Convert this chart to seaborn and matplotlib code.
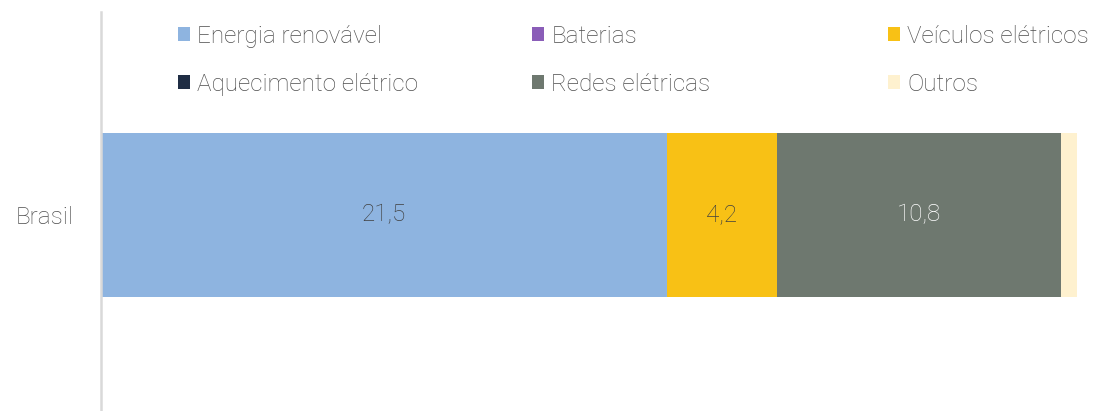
import numpy as np
import pandas as pd
import seaborn as sns
import matplotlib.pyplot as plt
from matplotlib.patches import Patch

country = 'Brasil'
categories = ['Energia renovável', 'Baterias', 'Veículos elétricos',
              'Aquecimento elétrico', 'Redes elétricas', 'Outros']
values = [21.5, 0.0, 4.2, 0.0, 10.8, 0.6]
colors = ['#8EB4E0', '#8A5DB8', '#F8C115', '#1F2D44', '#6E786F', '#FEF1CF']
label_colors = ['#404040', '#404040', '#404040', '#FFFFFF', '#FFFFFF', '#404040']

sns.set_style('white')
plt.rcParams['font.family'] = ['Roboto', 'DejaVu Sans']
FS = 17.5
TXT = '#4D4D4D'
W = 'light'

fig = plt.figure(figsize=(10.94, 4.11), dpi=100)
ax = fig.add_axes([101 / 1094, 0, (1077 - 101) / 1094, (411 - 12) / 411])

df = pd.DataFrame({'categoria': categories, 'valor': values})
df['acumulado'] = df['valor'].cumsum()

# stacked bars: draw cumulative totals from the largest down
for i in range(len(df) - 1, -1, -1):
    sns.barplot(x=[df['acumulado'][i]], y=[country], color=colors[i],
                width=1, saturation=1, ax=ax, orient='h', linewidth=0)

# value labels
for i, row in df.iterrows():
    if row['valor'] >= 1:
        ax.text(row['acumulado'] - row['valor'] / 2, 0, f"{row['valor']:.1f}".replace('.', ','),
                ha='center', va='center', fontsize=FS, color=label_colors[i], fontweight=W)

ax.set_xlim(0, df['valor'].sum())
ax.set_ylim(196 / 164, -203 / 164)
ax.set_xlabel('')
ax.set_ylabel('')
ax.set_xticks([])
ax.tick_params(axis='y', length=0, pad=20, labelsize=FS, labelcolor=TXT)
for lab in ax.get_yticklabels():
    lab.set_fontweight(W)
for s in ['top', 'right', 'bottom']:
    ax.spines[s].set_visible(False)
ax.spines['left'].set_color('#D9D9D9')
ax.spines['left'].set_linewidth(1.8)

# legend: three columns placed by hand
handles = [Patch(facecolor=c, edgecolor='none', label=l) for c, l in zip(colors, categories)]
col_x = [178, 532, 888]
for j, x in enumerate(col_x):
    idx = [j, j + 3]
    leg = fig.legend([handles[k] for k in idx], [categories[k] for k in idx],
                     loc='upper left', bbox_to_anchor=(x / 1094, 1 - 25 / 411),
                     frameon=False, fontsize=FS, handlelength=0.5, handleheight=0.5,
                     handletextpad=0.3, labelspacing=1.03, borderpad=0, borderaxespad=0)
    for t in leg.get_texts():
        t.set_color(TXT)
        t.set_fontweight(W)

fig.savefig('out.png', dpi=100)
